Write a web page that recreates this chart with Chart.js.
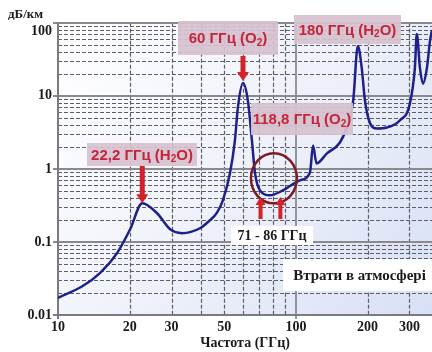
<!DOCTYPE html>
<html><head><meta charset="utf-8">
<script src="https://cdn.jsdelivr.net/npm/chart.js@4/dist/chart.umd.min.js"></script>
<style>html,body{margin:0;padding:0;background:#fff}#wrap{width:432px;height:352px}</style>
</head><body><div id="wrap"><canvas id="c" width="432" height="352"></canvas></div>
<script>
// ---- data ----
const frequencyGHz = [10, 12.7, 15, 17.7, 20.1, 22.6, 26.1, 29.6, 33.2, 39.5, 43.5, 46.5, 49.3, 52.8, 55.4, 57, 59.9, 62.8, 65.3, 67.3, 70.6, 77.8, 88.2, 104, 114.5, 118, 122, 135, 153, 165, 174, 182, 189, 195, 205, 219, 241, 273, 301, 316, 322, 332, 342, 355, 366, 373];
const attenuationDbKm = [0.0172, 0.0249, 0.0374, 0.0702, 0.149, 0.34, 0.247, 0.149, 0.132, 0.154, 0.198, 0.25, 0.371, 0.869, 2.45, 6.9, 15, 8.6, 2.45, 0.87, 0.508, 0.435, 0.508, 0.697, 0.895, 2.09, 1.19, 1.63, 2.3, 4.0, 8.6, 48, 24, 8.6, 4.2, 3.57, 3.68, 4.6, 7.8, 24, 70, 24, 14.7, 24, 57, 80];
const xTickValues = [10, 20, 30, 50, 100, 200, 300];
const xTickLabels = ['10', '20', '30', '50', '100', '200', '300'];
const yTickValues = [0.01, 0.1, 1, 10, 100];
const yTickLabels = ['0.01', '0.1', '1', '10', '100'];
const xMinorGrid = [20, 30, 40, 50, 60, 70, 80, 90, 200, 300];
const xMajorGrid = [100];
const yDecades = [0.01, 0.1, 1, 10, 100];
const peak22 = [22.6, 0.34];
const peak60 = [59.9, 16];
const bandEdges = [71, 86];
const circleCenter = [80.8, 0.742];

const xMin = 10, xMax = 373, yMin = 0.01, yMax = 100;

const tagBoxes = [
  {parts: [['60 ГГц (O'], ['2', 1], [')']], x: 178, y: 21, w: 100, h: 34},
  {parts: [['180 ГГц (H'], ['2', 1], ['O)']], x: 294, y: 15, w: 107, h: 29},
  {parts: [['118,8 ГГц (O'], ['2', 1], [')']], x: 251, y: 103, w: 102, h: 32},
  {parts: [['22,2 ГГц (H'], ['2', 1], ['O)']], x: 87, y: 143, w: 110, h: 23}
];
const whiteBoxes = [
  {text: '71 - 86 ГГц', x: 231, y: 226, w: 82, h: 19, font: 'bold 14px "Liberation Serif"'},
  {text: 'Втрати в атмосфері', x: 283, y: 259, w: 149, h: 32, font: 'bold 15px "Liberation Serif"'}
];

const RED = '#d3222a';

function richWidth(ctx, parts, big, small) {
  let w = 0;
  for (const [t, sub] of parts) { ctx.font = sub ? small : big; w += ctx.measureText(t).width; }
  return w;
}
function drawRich(ctx, parts, cx, cy, big, small, color) {
  const w = richWidth(ctx, parts, big, small);
  let x = cx - w / 2;
  ctx.fillStyle = color; ctx.textBaseline = 'middle'; ctx.textAlign = 'left';
  for (const [t, sub] of parts) {
    ctx.font = sub ? small : big;
    ctx.fillText(t, x, sub ? cy + 4 : cy);
    x += ctx.measureText(t).width;
  }
}
function downArrow(ctx, x, y0, tip) {
  ctx.fillStyle = RED;
  ctx.fillRect(x - 2.5, y0, 5, tip - y0 - 8);
  ctx.beginPath(); ctx.moveTo(x - 6, tip - 9); ctx.lineTo(x + 6, tip - 9); ctx.lineTo(x, tip); ctx.closePath(); ctx.fill();
}
function upArrow(ctx, x, tip, y1) {
  ctx.fillStyle = RED;
  ctx.fillRect(x - 2, tip + 7, 4, y1 - tip - 7);
  ctx.beginPath(); ctx.moveTo(x - 5, tip + 8); ctx.lineTo(x + 5, tip + 8); ctx.lineTo(x, tip); ctx.closePath(); ctx.fill();
}

const bgPlugin = {
  id: 'bg',
  beforeDatasetsDraw(chart) {
    const {ctx, chartArea: a, scales: {x, y}} = chart;
    ctx.save();
    const g = ctx.createLinearGradient(a.left, a.top, a.right, a.bottom);
    g.addColorStop(0, '#ffffff');
    g.addColorStop(0.45, '#f1f3fb');
    g.addColorStop(1, '#d8e0f5');
    ctx.fillStyle = g;
    ctx.fillRect(a.left, a.top, a.right - a.left, a.bottom - a.top);
    // minor horizontal
    ctx.strokeStyle = '#5e5e66'; ctx.lineWidth = 1.2; ctx.setLineDash([4, 2]);
    for (const d of yDecades.slice(0, 4)) {
      for (let k = 2; k <= 9; k++) {
        const py = Math.round(y.getPixelForValue(k * d)) + 0.5;
        ctx.beginPath(); ctx.moveTo(a.left, py); ctx.lineTo(a.right, py); ctx.stroke();
      }
    }
    for (const v of xMinorGrid) {
      const px = Math.round(x.getPixelForValue(v)) + 0.5;
      ctx.beginPath(); ctx.moveTo(px, a.top); ctx.lineTo(px, a.bottom); ctx.stroke();
    }
    ctx.setLineDash([]);
    ctx.strokeStyle = '#8a8a8e'; ctx.lineWidth = 1.8;
    for (const d of yDecades.slice(1)) {
      const py = Math.round(y.getPixelForValue(d));
      ctx.beginPath(); ctx.moveTo(a.left - 5, py); ctx.lineTo(a.right, py); ctx.stroke();
    }
    for (const v of xMajorGrid) {
      const px = Math.round(x.getPixelForValue(v));
      ctx.beginPath(); ctx.moveTo(px, a.top); ctx.lineTo(px, a.bottom + 4); ctx.stroke();
    }
    ctx.strokeStyle = '#7a7a80'; ctx.lineWidth = 2;
    ctx.beginPath(); ctx.moveTo(a.left, a.top); ctx.lineTo(a.left, a.bottom); ctx.lineTo(a.right, a.bottom); ctx.stroke();
    ctx.beginPath(); ctx.moveTo(a.left - 5, a.bottom); ctx.lineTo(a.left, a.bottom); ctx.moveTo(a.left, a.bottom); ctx.lineTo(a.left, a.bottom + 4); ctx.stroke();
    ctx.restore();
  },
  afterDatasetsDraw(chart) {
    const {ctx, scales: {x, y}} = chart;
    ctx.save();
    // circle around 71-86 GHz band
    ctx.strokeStyle = '#7d1d22'; ctx.lineWidth = 2.5;
    ctx.beginPath();
    ctx.ellipse(x.getPixelForValue(circleCenter[0]), y.getPixelForValue(circleCenter[1]), 23, 25, 0, 0, Math.PI * 2);
    ctx.stroke();
    // tag boxes
    for (const b of tagBoxes) {
      ctx.fillStyle = 'rgba(214,194,207,0.93)';
      ctx.fillRect(b.x, b.y, b.w, b.h);
      drawRich(ctx, b.parts, b.x + b.w / 2, b.y + b.h / 2 + 1, 'bold 15px "Liberation Sans"', 'bold 10px "Liberation Sans"', '#c4253a');
    }
    for (const b of whiteBoxes) {
      ctx.fillStyle = '#ffffff';
      ctx.fillRect(b.x, b.y, b.w, b.h);
      ctx.font = b.font; ctx.fillStyle = '#1a1a1a'; ctx.textAlign = 'center'; ctx.textBaseline = 'middle';
      ctx.fillText(b.text, b.x + b.w / 2 + (b.w > 120 ? 2 : 0), b.y + b.h / 2 + 1);
    }
    // arrows
    downArrow(ctx, x.getPixelForValue(peak22[0]), 166, y.getPixelForValue(peak22[1]));
    downArrow(ctx, x.getPixelForValue(peak60[0]), 56, y.getPixelForValue(peak60[1]));
    for (const f of bandEdges) upArrow(ctx, x.getPixelForValue(f), 197, 219);
    // unit label
    ctx.font = 'bold 13px "Liberation Serif"'; ctx.fillStyle = '#1a1a1a'; ctx.textAlign = 'left'; ctx.textBaseline = 'middle';
    ctx.fillText('дБ/км', 8, 15);
    ctx.restore();
  }
};

new Chart(document.getElementById('c'), {
  type: 'line',
  data: {
    datasets: [{
      data: frequencyGHz.map((f, i) => ({x: f, y: attenuationDbKm[i]})),
      borderColor: '#1d2189',
      borderWidth: 2.5,
      pointRadius: 0,
      cubicInterpolationMode: 'monotone',
      fill: false
    }]
  },
  options: {
    responsive: false,
    animation: false,
    devicePixelRatio: 1,
    layout: {padding: {top: 22, right: 0, left: 0, bottom: 0}},
    plugins: {legend: {display: false}, tooltip: {enabled: false}},
    scales: {
      x: {
        type: 'logarithmic', min: xMin, max: xMax,
        grid: {display: false, drawTicks: false}, border: {display: false},
        afterBuildTicks: s => { s.ticks = xTickValues.map(v => ({value: v})); },
        afterFit: s => { s.height = 37; },
        ticks: {
          autoSkip: false, maxRotation: 0, padding: 4, color: '#1a1a1a',
          font: {family: '"Liberation Serif"', weight: 'bold', size: 14},
          callback: v => { const i = xTickValues.indexOf(v); return i >= 0 ? xTickLabels[i] : ''; }
        },
        title: {display: true, text: 'Частота (ГГц)', color: '#1a1a1a', padding: {top: 0, bottom: 0},
          font: {family: '"Liberation Serif"', weight: 'bold', size: 14}}
      },
      y: {
        type: 'logarithmic', min: yMin, max: yMax,
        grid: {display: false, drawTicks: false}, border: {display: false},
        afterBuildTicks: s => { s.ticks = yTickValues.map(v => ({value: v})); },
        afterFit: s => { s.width = 58; },
        ticks: {
          autoSkip: false, padding: 6, color: '#1a1a1a',
          font: {family: '"Liberation Serif"', weight: 'bold', size: 14},
          callback: v => { const i = yTickValues.indexOf(v); if (i < 0) return ''; return v === yMax ? ['', yTickLabels[i]] : yTickLabels[i]; }
        }
      }
    }
  },
  plugins: [bgPlugin]
});
</script></body></html>
